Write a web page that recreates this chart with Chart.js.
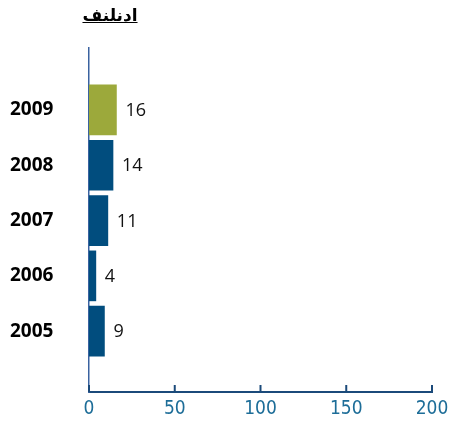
<!DOCTYPE html>
<html>
<head>
<meta charset="utf-8">
<script src="https://cdn.jsdelivr.net/npm/chart.js@4"></script>
<style>
  html, body { margin: 0; padding: 0; background: #fff; }
  #wrap { position: relative; width: 449px; height: 425px; }
  #title {
    position: absolute; left: 60px; width: 100px; top: 5px;
    text-align: center; font: bold 17px "DejaVu Sans", sans-serif;
    text-decoration: underline; color: #000;
    direction: ltr; unicode-bidi: bidi-override;
  }
</style>
</head>
<body>
<div id="wrap">
  <div id="title">فنلندا</div>
  <canvas id="myChart" width="449" height="425"></canvas>
</div>
<script>
// data
const years = ["2009", "2008", "2007", "2006", "2005"];
const values = [16, 14, 11, 4, 9];
const barColors = ["#9ca93b", "#014d7e", "#014d7e", "#014d7e", "#014d7e"];
const xTicks = [0, 50, 100, 150, 200];

/*
 * Value labels next to each bar and small upward ticks on the x axis
 */
const extras = {
  id: "extras",
  afterDatasetsDraw(chart) {
    const ctx = chart.ctx;
    ctx.save();
    ctx.font = '18px "Open Sans", sans-serif';
    ctx.fillStyle = "#111";
    ctx.textAlign = "left";
    ctx.textBaseline = "middle";
    chart.getDatasetMeta(0).data.forEach((bar, i) => {
      ctx.fillText(String(values[i]), bar.x + 9, bar.y + 1);
    });
    const xs = chart.scales.x;
    const y0 = chart.chartArea.bottom;
    ctx.strokeStyle = "#1b4a7a";
    ctx.lineWidth = 2;
    xTicks.forEach((t) => {
      const px = xs.getPixelForValue(t);
      ctx.beginPath();
      ctx.moveTo(px, y0);
      ctx.lineTo(px, y0 - 7);
      ctx.stroke();
    });
    ctx.restore();
  },
};

const ctx = document.getElementById("myChart");
new Chart(ctx, {
  type: "bar",
  data: {
    datasets: [
      {
        data: values.map((v, i) => ({ x: v, y: i })),
        backgroundColor: barColors,
        barThickness: 50,
      },
    ],
  },
  plugins: [extras],
  options: {
    indexAxis: "y",
    responsive: false,
    animation: false,
    layout: { padding: { top: 48, right: 17, left: 10, bottom: 0 } },
    scales: {
      x: {
        type: "linear",
        min: 0,
        max: 200,
        afterBuildTicks: (s) => { s.ticks = xTicks.map((v) => ({ value: v })); },
        afterFit: (s) => { s.height = 33; s.paddingLeft = 0; s.paddingRight = 0; },
        grid: { display: false, drawTicks: false },
        border: { display: true, color: "#1b4a7a", width: 2 },
        ticks: {
          padding: 6,
          color: "#1d6d98",
          font: { family: '"Liberation Sans Narrow", "DejaVu Sans Condensed", sans-serif', size: 19 },
        },
      },
      y: {
        type: "linear",
        reverse: true,
        offset: false,
        min: -1.12,
        max: 5.1,
        afterBuildTicks: (s) => { s.ticks = years.map((_, i) => ({ value: i })); },
        afterFit: (s) => { s.width = 79; },
        grid: { display: false, drawTicks: false },
        border: { display: true, color: "#3a62a0", width: 1.5 },
        ticks: {
          padding: 0,
          crossAlign: "far",
          color: "#000",
          font: { family: '"Open Sans", sans-serif', size: 19, weight: "bold" },
          callback: (v) => years[v],
        },
      },
    },
    plugins: {
      legend: { display: false },
      tooltip: { enabled: false },
    },
  },
});
</script>
</body>
</html>
